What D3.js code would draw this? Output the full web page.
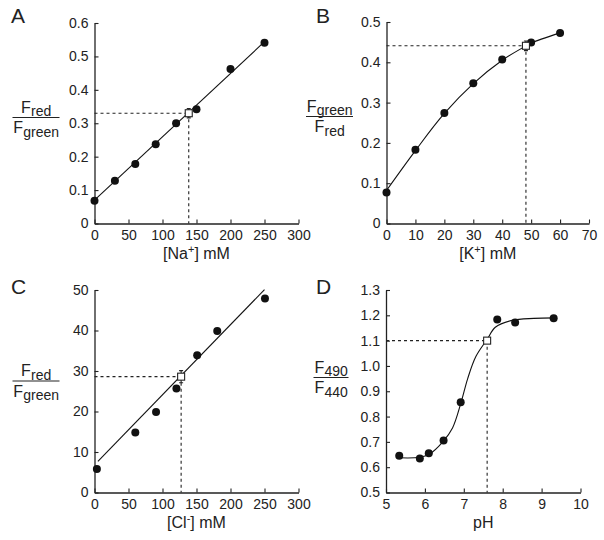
<!DOCTYPE html>
<html><head><meta charset="utf-8">
<script src="https://cdn.jsdelivr.net/npm/d3@7/dist/d3.min.js"></script>
<style>body{margin:0;background:#fff;} svg{display:block;} text{font-family:"Liberation Sans",Arial,sans-serif;fill:#222;}</style>
</head><body>
<svg id="c" width="604" height="540"></svg>
<script>
// ---- Panel A: [Na+] ----
const naX = [0, 30, 60, 90, 120, 150, 200, 250];
const naY = [0.068, 0.128, 0.178, 0.237, 0.300, 0.342, 0.462, 0.541];
const naFitX = [0, 250];
const naFitY = [0.07, 0.544];
const naRef = {x: 138.6, y: 0.330, err: 0.014};
const naXTicks = [0, 50, 100, 150, 200, 250, 300];
const naYTicks = [0, 0.1, 0.2, 0.3, 0.4, 0.5, 0.6];

// ---- Panel B: [K+] ----
const kX = [0, 10, 20, 30, 40, 50, 60];
const kY = [0.077, 0.183, 0.274, 0.348, 0.407, 0.449, 0.473];
const kFitX = [0, 10, 20, 30, 40, 48, 50, 60];
const kFitY = [0.082, 0.181, 0.273, 0.347, 0.405, 0.440, 0.448, 0.473];
const kRef = {x: 48.2, y: 0.441, err: 0.012};
const kXTicks = [0, 10, 20, 30, 40, 50, 60, 70];
const kYTicks = [0, 0.1, 0.2, 0.3, 0.4, 0.5];

// ---- Panel C: [Cl-] ----
const clX = [3.5, 60, 90.5, 120.5, 151, 180.5, 250.7];
const clY = [5.8, 14.8, 19.9, 25.7, 33.9, 39.9, 47.9];
const clFitX = [5, 250];
const clFitY = [7.7, 50.1];
const clRef = {x: 127.4, y: 28.6, err: 1.5};
const clXTicks = [0, 50, 100, 150, 200, 250, 300];
const clYTicks = [0, 10, 20, 30, 40, 50];

// ---- Panel D: pH ----
const phX = [5.34, 5.87, 6.1, 6.48, 6.92, 7.86, 8.32, 9.31];
const phY = [0.645, 0.634, 0.655, 0.705, 0.857, 1.183, 1.172, 1.188];
const phFitX = [5.35, 5.86, 6.12, 6.46, 6.71, 6.93, 7.10, 7.31, 7.6, 7.81, 8.24, 8.8, 9.33];
const phFitY = [0.637, 0.639, 0.652, 0.700, 0.755, 0.856, 0.950, 1.037, 1.105, 1.153, 1.180, 1.188, 1.190];
const phRef = {x: 7.6, y: 1.10, err: 0};
const phXTicks = [5, 6, 7, 8, 9, 10];
const phYTicks = [0.5, 0.6, 0.7, 0.8, 0.9, 1.0, 1.1, 1.2, 1.3];

const svg = d3.select("#c");
const FONT = '"Liberation Sans",Arial,sans-serif';

function panel(o) {
  const g = svg.append("g");
  const x = d3.scaleLinear().domain(o.xd).range([o.x0, o.x1]);
  const y = d3.scaleLinear().domain(o.yd).range([o.y0, o.y1]);
  const ax = g.append("g").attr("transform", `translate(0,${o.y0})`)
    .call(d3.axisBottom(x).tickValues(o.xt).tickSizeInner(-4).tickSizeOuter(0).tickPadding(7).tickFormat(d3.format("d")));
  const ay = g.append("g").attr("transform", `translate(${o.x0},0)`)
    .call(d3.axisLeft(y).tickValues(o.yt).tickSizeInner(-4).tickSizeOuter(0).tickPadding(6).tickFormat(o.yf));
  [ax, ay].forEach(a => {
    a.select(".domain").attr("stroke", "#222").attr("stroke-width", 1.3);
    a.selectAll(".tick line").attr("stroke", "#222").attr("stroke-width", 1.1);
    a.selectAll("text").attr("font-size", 14).attr("fill", "#222").attr("font-family", FONT);
  });
  g.append("path").attr("fill", "none").attr("stroke", "#222").attr("stroke-width", 1.1)
    .attr("stroke-dasharray", "3,3")
    .attr("d", `M${x(o.xd[0])},${y(o.ref.y)}H${x(o.ref.x)}M${x(o.ref.x)},${y(o.ref.y)}V${y(o.yd[0])}`);
  const pts = o.fx.map((v, i) => [v, o.fy[i]]);
  g.append("path").attr("fill", "none").attr("stroke", "#111").attr("stroke-width", 1.1)
    .attr("d", d3.line().x(d => x(d[0])).y(d => y(d[1])).curve(o.curve || d3.curveLinear)(pts));
  g.selectAll("circle").data(o.px.map((v, i) => [v, o.py[i]])).enter().append("circle")
    .attr("cx", d => x(d[0])).attr("cy", d => y(d[1])).attr("r", 4).attr("fill", "#111");
  if (o.ref.err > 0) {
    const cx = x(o.ref.x);
    g.append("path").attr("stroke", "#222").attr("stroke-width", 1.1).attr("fill", "none")
      .attr("d", `M${cx},${y(o.ref.y - o.ref.err)}V${y(o.ref.y + o.ref.err)}M${cx-2},${y(o.ref.y + o.ref.err)}H${cx+2}M${cx-2},${y(o.ref.y - o.ref.err)}H${cx+2}`);
  }
  g.append("rect").attr("x", x(o.ref.x) - 3.5).attr("y", y(o.ref.y) - 3.5)
    .attr("width", 7).attr("height", 7).attr("fill", "#fff").attr("stroke", "#222").attr("stroke-width", 1.1);
  g.append("text").attr("x", o.lx).attr("y", o.ly).attr("font-size", 21).text(o.letter);
  const parts = o.xtitle;
  const tg = g.append("g");
  let cur = 0;
  parts.forEach(p => {
    const t = tg.append("text").attr("x", cur).attr("y", o.y0 + 35 + p[2]).attr("font-size", p[1]).text(p[0]);
    cur += t.node().getComputedTextLength();
  });
  tg.attr("transform", `translate(${(o.x0 + o.x1) / 2 - cur / 2},0)`);
  const cx = o.fc, ly = o.fly;
  function frac(yy, sub) {
    const f = g.append("text").attr("y", yy).attr("font-size", 16).text("F");
    const s = g.append("text").attr("y", yy + 3.5).attr("font-size", 14).text(sub);
    const w1 = f.node().getComputedTextLength(), w2 = s.node().getComputedTextLength();
    const start = cx - (w1 + w2) / 2;
    f.attr("x", start); s.attr("x", start + w1 + 0.3);
  }
  frac(ly - 5, o.num);
  frac(ly + 15.5, o.den);
  g.append("line").attr("x1", cx - o.fw / 2).attr("x2", cx + o.fw / 2).attr("y1", ly).attr("y2", ly)
    .attr("stroke", "#222").attr("stroke-width", 1.2);
}

function ionTitle(ion, sup) {
  return [["[" + ion, 16, 0], [sup, 11, -6], ["] mM", 16, 0]];
}

panel({xd: [0, 300], yd: [0, 0.6], x0: 94.5, x1: 298.5, y0: 223.5, y1: 23,
  xt: naXTicks, yt: naYTicks, yf: d => d === 0 ? "0" : d3.format(".1f")(d),
  px: naX, py: naY, fx: naFitX, fy: naFitY, ref: naRef,
  letter: "A", lx: 11, ly: 23, xtitle: ionTitle("Na", "+"),
  fc: 36, fly: 117.5, fw: 47, num: "red", den: "green"});

panel({xd: [0, 70], yd: [0, 0.5], x0: 386.5, x1: 589, y0: 223.5, y1: 22,
  xt: kXTicks, yt: kYTicks, yf: d => d === 0 ? "0" : d3.format(".1f")(d),
  px: kX, py: kY, fx: kFitX, fy: kFitY, ref: kRef, curve: d3.curveCatmullRom.alpha(0.5),
  letter: "B", lx: 316, ly: 23, xtitle: ionTitle("K", "+"),
  fc: 329.5, fly: 116.5, fw: 47, num: "green", den: "red"});

panel({xd: [0, 300], yd: [0, 50], x0: 94.5, x1: 298.5, y0: 492.5, y1: 290,
  xt: clXTicks, yt: clYTicks, yf: d3.format("d"),
  px: clX, py: clY, fx: clFitX, fy: clFitY, ref: clRef,
  letter: "C", lx: 11, ly: 294, xtitle: ionTitle("Cl", "-"),
  fc: 36, fly: 381, fw: 47, num: "red", den: "green"});

panel({xd: [5, 10], yd: [0.5, 1.3], x0: 386, x1: 580.5, y0: 492.5, y1: 290,
  xt: phXTicks, yt: phYTicks, yf: d3.format(".1f"),
  px: phX, py: phY, fx: phFitX, fy: phFitY, ref: phRef, curve: d3.curveCatmullRom.alpha(0.5),
  letter: "D", lx: 316, ly: 294, xtitle: [["pH", 16, 0]],
  fc: 331, fly: 377.5, fw: 35, num: "490", den: "440"});
</script>
</body></html>
